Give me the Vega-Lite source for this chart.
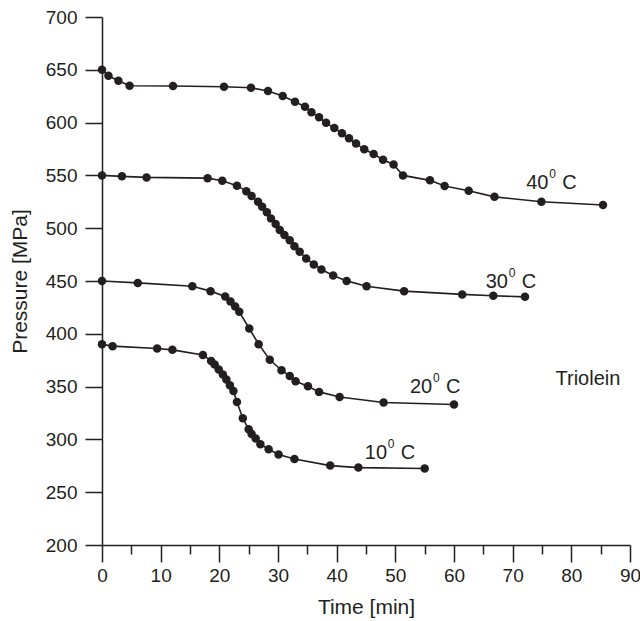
{
  "$schema": "https://vega.github.io/schema/vega-lite/v6.json",
  "autosize": "none",
  "width": 528,
  "height": 528,
  "padding": {"left": 102, "top": 17, "right": 10, "bottom": 76},
  "background": "white",
  "config": {
    "view": {"stroke": null},
    "font": "Liberation Sans",
    "axis": {"grid": false, "labelFlush": false, "domainColor": "#231f20", "tickColor": "#231f20", "domainWidth": 1.5, "tickWidth": 1.5, "labelColor": "#231f20", "titleColor": "#231f20", "labelFont": "Liberation Sans", "titleFont": "Liberation Sans", "titleFontWeight": "normal", "labelFontSize": 19, "titleFontSize": 21}
  },
  "datasets": {
    "curves": [
      {"series": "40", "Time": 0, "Pressure": 650}, {"series": "40", "Time": 1.1, "Pressure": 644.4}, {"series": "40", "Time": 2.8, "Pressure": 639.6}, {"series": "40", "Time": 4.7, "Pressure": 634.9}, {"series": "40", "Time": 12.1, "Pressure": 634.6}, {"series": "40", "Time": 20.8, "Pressure": 634}, {"series": "40", "Time": 25.4, "Pressure": 633}, {"series": "40", "Time": 28.3, "Pressure": 629.9}, {"series": "40", "Time": 30.8, "Pressure": 625.1}, {"series": "40", "Time": 32.9, "Pressure": 619.7}, {"series": "40", "Time": 34.6, "Pressure": 615}, {"series": "40", "Time": 35.7, "Pressure": 609.7}, {"series": "40", "Time": 37, "Pressure": 605}, {"series": "40", "Time": 38.2, "Pressure": 599.8}, {"series": "40", "Time": 39.6, "Pressure": 594.8}, {"series": "40", "Time": 40.9, "Pressure": 589.9}, {"series": "40", "Time": 42.1, "Pressure": 585.1}, {"series": "40", "Time": 43.3, "Pressure": 580.1}, {"series": "40", "Time": 44.7, "Pressure": 574.7}, {"series": "40", "Time": 46.3, "Pressure": 570.2}, {"series": "40", "Time": 47.9, "Pressure": 564.8}, {"series": "40", "Time": 49.7, "Pressure": 560.4}, {"series": "40", "Time": 51.3, "Pressure": 550}, {"series": "40", "Time": 55.9, "Pressure": 545.3}, {"series": "40", "Time": 58.4, "Pressure": 539.9}, {"series": "40", "Time": 62.5, "Pressure": 535.4}, {"series": "40", "Time": 66.9, "Pressure": 529.7}, {"series": "40", "Time": 74.9, "Pressure": 525}, {"series": "40", "Time": 85.4, "Pressure": 521.9},
      {"series": "30", "Time": 0, "Pressure": 550}, {"series": "30", "Time": 3.4, "Pressure": 549.1}, {"series": "30", "Time": 7.6, "Pressure": 548.1}, {"series": "30", "Time": 18, "Pressure": 547.4}, {"series": "30", "Time": 20.5, "Pressure": 544.9}, {"series": "30", "Time": 23, "Pressure": 540.3}, {"series": "30", "Time": 24.6, "Pressure": 535.1}, {"series": "30", "Time": 25.5, "Pressure": 530.4}, {"series": "30", "Time": 26.6, "Pressure": 525}, {"series": "30", "Time": 27.3, "Pressure": 520.3}, {"series": "30", "Time": 28.1, "Pressure": 515}, {"series": "30", "Time": 28.8, "Pressure": 509.3}, {"series": "30", "Time": 29.6, "Pressure": 503.9}, {"series": "30", "Time": 30.3, "Pressure": 498.2}, {"series": "30", "Time": 31.1, "Pressure": 493.5}, {"series": "30", "Time": 32, "Pressure": 488.7}, {"series": "30", "Time": 32.8, "Pressure": 483}, {"series": "30", "Time": 33.7, "Pressure": 477.6}, {"series": "30", "Time": 34.8, "Pressure": 471.4}, {"series": "30", "Time": 36.1, "Pressure": 465.7}, {"series": "30", "Time": 37.4, "Pressure": 460.9}, {"series": "30", "Time": 39.4, "Pressure": 455.3}, {"series": "30", "Time": 41.7, "Pressure": 450.1}, {"series": "30", "Time": 45.1, "Pressure": 445.1}, {"series": "30", "Time": 51.5, "Pressure": 440.4}, {"series": "30", "Time": 61.4, "Pressure": 437.3}, {"series": "30", "Time": 66.7, "Pressure": 436}, {"series": "30", "Time": 72.1, "Pressure": 435},
      {"series": "20", "Time": 0, "Pressure": 450}, {"series": "20", "Time": 6.1, "Pressure": 448.2}, {"series": "20", "Time": 15.4, "Pressure": 445.1}, {"series": "20", "Time": 18.5, "Pressure": 440.4}, {"series": "20", "Time": 21, "Pressure": 435.4}, {"series": "20", "Time": 21.9, "Pressure": 430.6}, {"series": "20", "Time": 22.7, "Pressure": 425.9}, {"series": "20", "Time": 23.4, "Pressure": 420.8}, {"series": "20", "Time": 25.1, "Pressure": 405}, {"series": "20", "Time": 26.7, "Pressure": 390.2}, {"series": "20", "Time": 28.6, "Pressure": 375.4}, {"series": "20", "Time": 30.6, "Pressure": 365.5}, {"series": "20", "Time": 32, "Pressure": 360.1}, {"series": "20", "Time": 33, "Pressure": 355.1}, {"series": "20", "Time": 35.1, "Pressure": 350.4}, {"series": "20", "Time": 37, "Pressure": 345}, {"series": "20", "Time": 40.5, "Pressure": 340.1}, {"series": "20", "Time": 48, "Pressure": 334.9}, {"series": "20", "Time": 60, "Pressure": 333},
      {"series": "10", "Time": 0, "Pressure": 390}, {"series": "10", "Time": 1.8, "Pressure": 388.3}, {"series": "10", "Time": 9.4, "Pressure": 386.1}, {"series": "10", "Time": 12, "Pressure": 384.8}, {"series": "10", "Time": 17.2, "Pressure": 380}, {"series": "10", "Time": 18.6, "Pressure": 374.3}, {"series": "10", "Time": 19.2, "Pressure": 370.9}, {"series": "10", "Time": 19.9, "Pressure": 366.2}, {"series": "10", "Time": 20.6, "Pressure": 361.5}, {"series": "10", "Time": 21.2, "Pressure": 356.7}, {"series": "10", "Time": 21.8, "Pressure": 351.3}, {"series": "10", "Time": 22.4, "Pressure": 345.9}, {"series": "10", "Time": 23, "Pressure": 335.5}, {"series": "10", "Time": 24, "Pressure": 320}, {"series": "10", "Time": 25, "Pressure": 309.6}, {"series": "10", "Time": 25.5, "Pressure": 305.2}, {"series": "10", "Time": 26.2, "Pressure": 300.8}, {"series": "10", "Time": 27, "Pressure": 295.4}, {"series": "10", "Time": 28.4, "Pressure": 290.7}, {"series": "10", "Time": 30.1, "Pressure": 285.7}, {"series": "10", "Time": 32.8, "Pressure": 281.5}, {"series": "10", "Time": 38.9, "Pressure": 275.2}, {"series": "10", "Time": 43.7, "Pressure": 273.3}, {"series": "10", "Time": 55, "Pressure": 272.4}
    ],
    "labels": [
      {"label": "40", "Time": 72.3, "Pressure": 536.7},
      {"label": "30", "Time": 65.4, "Pressure": 442.9},
      {"label": "20", "Time": 52.5, "Pressure": 343.5},
      {"label": "10", "Time": 44.8, "Pressure": 281.2}
    ],
    "names": [
      {"name": "Triolein", "Time": 77.3, "Pressure": 351.3}
    ]
  },
  "resolve": {"axis": {"x": "independent"}},
  "layer": [
    {
      "data": {"name": "curves"},
      "mark": {"type": "line", "color": "#231f20", "strokeWidth": 1.6, "point": {"filled": true, "size": 72, "color": "#231f20", "opacity": 1}},
      "encoding": {
        "x": {"field": "Time", "type": "quantitative", "scale": {"domain": [0, 90], "nice": false, "zero": false},
          "axis": {"orient": "bottom", "title": "Time [min]", "values": [0, 10, 20, 30, 40, 50, 60, 70, 80, 90], "tickSize": 17, "labelPadding": 4, "titlePadding": 11}},
        "y": {"field": "Pressure", "type": "quantitative", "scale": {"domain": [200, 700], "nice": false, "zero": false},
          "axis": {"title": "Pressure [MPa]", "values": [200, 250, 300, 350, 400, 450, 500, 550, 600, 650, 700], "tickSize": 17, "labelPadding": 8, "titlePadding": 15}},
        "detail": {"field": "series", "type": "nominal"}
      }
    },
    {
      "data": {"name": "labels"},
      "mark": {"type": "text", "align": "left", "baseline": "alphabetic", "fontSize": 20, "color": "#231f20", "font": "Liberation Sans"},
      "encoding": {
        "x": {"field": "Time", "type": "quantitative", "axis": {"orient": "bottom", "title": null, "values": [5, 15, 25, 35, 45, 55, 65, 75, 85], "tickSize": 9, "labels": false, "domain": false}},
        "y": {"field": "Pressure", "type": "quantitative"},
        "text": {"field": "label"}
      }
    },
    {
      "data": {"name": "labels"},
      "mark": {"type": "text", "align": "left", "baseline": "alphabetic", "fontSize": 12, "dx": 23, "dy": -11, "color": "#231f20", "font": "Liberation Sans"},
      "encoding": {
        "x": {"field": "Time", "type": "quantitative", "axis": null},
        "y": {"field": "Pressure", "type": "quantitative"},
        "text": {"value": "0"}
      }
    },
    {
      "data": {"name": "labels"},
      "mark": {"type": "text", "align": "left", "baseline": "alphabetic", "fontSize": 20, "dx": 36, "color": "#231f20", "font": "Liberation Sans"},
      "encoding": {
        "x": {"field": "Time", "type": "quantitative", "axis": null},
        "y": {"field": "Pressure", "type": "quantitative"},
        "text": {"value": "C"}
      }
    },
    {
      "data": {"name": "names"},
      "mark": {"type": "text", "align": "left", "baseline": "alphabetic", "fontSize": 20, "color": "#231f20", "font": "Liberation Sans"},
      "encoding": {
        "x": {"field": "Time", "type": "quantitative", "axis": null},
        "y": {"field": "Pressure", "type": "quantitative"},
        "text": {"field": "name"}
      }
    }
  ]
}
